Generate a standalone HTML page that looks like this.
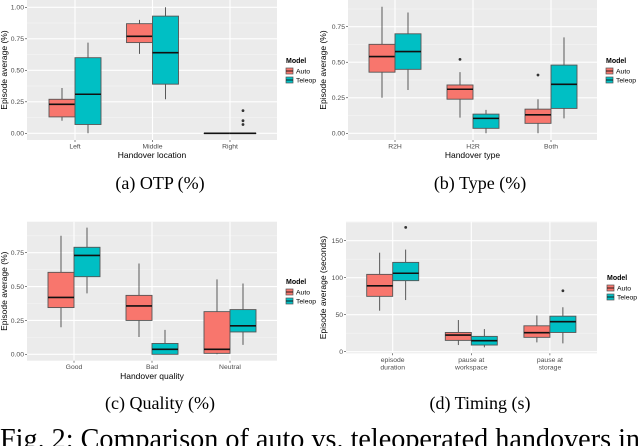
<!DOCTYPE html>
<html><head><meta charset="utf-8"><style>
html,body{margin:0;padding:0;background:#fff;width:640px;height:446px;overflow:hidden}
svg{display:block;font-family:"Liberation Sans",sans-serif}
.serif{font-family:"Liberation Serif",serif}
</style></head><body>
<svg id="fig" width="640" height="446" viewBox="0 0 640 446" xmlns="http://www.w3.org/2000/svg">
<text class="serif" x="0" y="448" font-size="29" textLength="640" lengthAdjust="spacingAndGlyphs">Fig. 2: Comparison of auto vs. teleoperated handovers in</text>
</svg>
<script>
// ---- data: panel a (OTP) ----
const aCategories = ["Left", "Middle", "Right"];
const aAuto = [[0.10,0.13,0.23,0.27,0.36],[0.63,0.72,0.77,0.87,0.90],[0,0,0,0,0]];
const aTeleop = [[0,0.07,0.31,0.60,0.72],[0.27,0.39,0.64,0.93,1.00],[0,0,0,0,0]];
const aAutoOut = [[],[],[]];
const aTeleopOut = [[],[],[0.07,0.10,0.18]];
const aTicks = [0,0.25,0.5,0.75,1.0];
const aTickLabels = ["0.00","0.25","0.50","0.75","1.00"];
// ---- data: panel b (Type) ----
const bCategories = ["R2H", "H2R", "Both"];
const bAuto = [[0.25,0.43,0.54,0.626,0.89],[0.11,0.24,0.31,0.34,0.43],[0,0.07,0.13,0.17,0.24]];
const bTeleop = [[0.305,0.45,0.575,0.70,0.85],[0,0.035,0.105,0.135,0.165],[0.105,0.175,0.345,0.48,0.675]];
const bAutoOut = [[],[0.52],[0.41]];
const bTeleopOut = [[],[],[]];
const bTicks = [0,0.25,0.5,0.75];
const bTickLabels = ["0.00","0.25","0.50","0.75"];
// ---- data: panel c (Quality) ----
const cCategories = ["Good", "Bad", "Neutral"];
const cAuto = [[0.20,0.345,0.42,0.605,0.875],[0.128,0.25,0.357,0.435,0.67],[0,0.007,0.037,0.315,0.553]];
const cTeleop = [[0.45,0.573,0.73,0.79,0.935],[0,0,0.037,0.08,0.18],[0.07,0.165,0.21,0.33,0.523]];
const cAutoOut = [[],[],[]];
const cTeleopOut = [[],[],[]];
const cTicks = [0,0.25,0.5,0.75];
const cTickLabels = ["0.00","0.25","0.50","0.75"];
// ---- data: panel d (Timing) ----
const dCategories = [["episode","duration"],["pause at","workspace"],["pause at","storage"]];
const dAuto = [[55.4,74.8,89,104.5,133.8],[9,15.3,22.5,26,42.8],[12.6,19.4,25.7,35,49]];
const dTeleop = [[69.8,96,106,120.7,138],[5.9,9,14.9,20.7,30.6],[11.3,26,40.5,48,60]];
const dAutoOut = [[],[],[]];
const dTeleopOut = [[168],[],[82.4]];
const dTicks = [0,50,100,150];
const dTickLabels = ["0","50","100","150"];

const NS = "http://www.w3.org/2000/svg";
const svg = document.getElementById("fig");
function mk(tag, attrs, parent){
  const e = document.createElementNS(NS, tag);
  for (const k in attrs) e.setAttribute(k, attrs[k]);
  (parent||svg).appendChild(e);
  return e;
}
const AUTO = "#F8766D", TELE = "#00BFC4";

function panel(p){
  const g = mk("g", {});
  
  
  const yS = v => p.py0 + (v - p.v0) * (p.py1 - p.py0) / (p.v1 - p.v0);
  const xS = i => p.cx0 + i * p.cstep;
  const bg = mk("rect", {x:p.x0, y:p.y0, width:p.x1-p.x0, height:p.y1-p.y0, fill:"#EBEBEB"}, g);
  
  
  const step = p.ticks[1]-p.ticks[0];
  for (let v = p.ticks[0]-step/2; v <= p.ticks[p.ticks.length-1]+step; v += step){
    const y = yS(v);
    if (y > p.y0 && y < p.y1) mk("line", {x1:p.x0, x2:p.x1, y1:y, y2:y, stroke:"#F5F5F5", "stroke-width":0.6}, g);
  }
  for (let v = p.ticks[p.ticks.length-1]+step; yS(v) > p.y0; v += step){
    mk("line", {x1:p.x0, x2:p.x1, y1:yS(v), y2:yS(v), stroke:"#fff", "stroke-width":1.1}, g);
  }
  p.ticks.forEach((v, i) => {
    const y = yS(v);
    mk("line", {x1:p.x0, x2:p.x1, y1:y, y2:y, stroke:"#fff", "stroke-width":1.1}, g);
    mk("line", {x1:p.x0-2, x2:p.x0, y1:y, y2:y, stroke:"#333", "stroke-width":0.6}, g);
    const t = mk("text", {x:p.x0-3, y:y+2.4, "font-size":6.8, fill:"#4D4D4D", "text-anchor":"end"}, g);
    t.textContent = p.tickLabels[i];
    
    
  });
  p.cats.forEach((c, i) => {
    const x = xS(i);
    mk("line", {x1:x, x2:x, y1:p.y0, y2:p.y1, stroke:"#fff", "stroke-width":1.1}, g);
    mk("line", {x1:x, x2:x, y1:p.y1, y2:p.y1+2, stroke:"#333", "stroke-width":0.6}, g);
    const lines = Array.isArray(c) ? c : [c];
    lines.forEach((ln, j) => {
      const t = mk("text", {x:x, y:p.y1+8.5+j*7.5, "font-size":6.8, fill:"#4D4D4D", "text-anchor":"middle"}, g);
      t.textContent = ln;
      
      
    });
  });
  const series = [[p.auto, p.autoOut, AUTO, -1, "auto"], [p.tele, p.teleOut, TELE, 1, "teleop"]];
  series.forEach(([data, outs, col, side, nm]) => {
    data.forEach((b, i) => {
      const cx = xS(i) + side * 13;
      const bx = mk("g", {}, g);
      
      
      mk("line", {x1:cx, x2:cx, y1:yS(b[0]), y2:yS(b[1]), stroke:"#333", "stroke-width":0.8}, bx);
      mk("line", {x1:cx, x2:cx, y1:yS(b[3]), y2:yS(b[4]), stroke:"#333", "stroke-width":0.8}, bx);
      mk("rect", {x:cx-13, y:yS(b[3]), width:26, height:Math.max(0.01, yS(b[1])-yS(b[3])), fill:col, stroke:"#555", "stroke-width":0.9}, bx);
      mk("line", {x1:cx-13, x2:cx+13, y1:yS(b[2]), y2:yS(b[2]), stroke:"#111", "stroke-width":1.6}, bx);
      outs[i].forEach(o => {
        const c = mk("circle", {cx:cx, cy:yS(o), r:1.4, fill:"#333"}, bx);
        
        
      });
    });
  });
  const xt = mk("text", {x:(p.x0+p.x1)/2, y:p.xTitleY, "font-size":8.5, fill:"#000", "text-anchor":"middle"}, g);
  xt.textContent = p.xTitle;
  
  
  const ym = (p.y0+p.y1)/2;
  const yt = mk("text", {x:p.yTitleX, y:ym, "font-size":8.5, fill:"#000", "text-anchor":"middle", transform:"rotate(-90 "+p.yTitleX+" "+ym+")"}, g);
  yt.textContent = p.yTitle;
  
  
  const lg = mk("g", {}, g);
  
  
  const lt = mk("text", {x:p.lx, y:p.ly, "font-size":7, "font-weight":"bold"}, lg);
  lt.textContent = "Model";
  [["Auto", AUTO], ["Teleop", TELE]].forEach(([n, col], k) => {
    const ey = p.ly + 5 + k * 9;
    const e = mk("g", {}, lg);
    
    
    mk("rect", {x:p.lx, y:ey, width:7, height:6, fill:col, stroke:"#555", "stroke-width":0.7}, e);
    mk("line", {x1:p.lx, x2:p.lx+7, y1:ey+3, y2:ey+3, stroke:"#111", "stroke-width":0.9}, e);
    const tt = mk("text", {x:p.lx+10, y:ey+5.3, "font-size":6.8}, e);
    tt.textContent = n;
  });
  const cap = mk("text", {x:p.capX, y:p.capY, "font-size":18, "text-anchor":"middle", "class":"serif"}, g);
  cap.textContent = p.caption;
  
  
}

panel({name:"panel-otp", x0:27, x1:277, y0:0, y1:140, v0:0, py0:133.3, v1:1, py1:7.3,
  cx0:75, cstep:77.5, cats:aCategories, auto:aAuto, tele:aTeleop, autoOut:aAutoOut, teleOut:aTeleopOut,
  ticks:aTicks, tickLabels:aTickLabels, xTitle:"Handover location", xTitleY:158, yTitle:"Episode average (%)", yTitleX:7,
  lx:286, ly:63, caption:"(a) OTP (%)", capX:160, capY:189});
panel({name:"panel-type", x0:348, x1:597, y0:0, y1:140, v0:0, py0:133.3, v1:0.75, py1:26.7,
  cx0:395, cstep:78, cats:bCategories, auto:bAuto, tele:bTeleop, autoOut:bAutoOut, teleOut:bTeleopOut,
  ticks:bTicks, tickLabels:bTickLabels, xTitle:"Handover type", xTitleY:158, yTitle:"Episode average (%)", yTitleX:326,
  lx:606, ly:63, caption:"(b) Type (%)", capX:480, capY:189});
panel({name:"panel-quality", x0:27, x1:277, y0:221.7, y1:360.7, v0:0, py0:354.3, v1:0.75, py1:252.7,
  cx0:74, cstep:78, cats:cCategories, auto:cAuto, tele:cTeleop, autoOut:cAutoOut, teleOut:cTeleopOut,
  ticks:cTicks, tickLabels:cTickLabels, xTitle:"Handover quality", xTitleY:379, yTitle:"Episode average (%)", yTitleX:7,
  lx:286, ly:284, caption:"(c) Quality (%)", capX:160, capY:409});
panel({name:"panel-timing", x0:346, x1:597, y0:221.7, y1:353.3, v0:0, py0:351.7, v1:150, py1:240.7,
  cx0:392.7, cstep:78.6, cats:dCategories, auto:dAuto, tele:dTeleop, autoOut:dAutoOut, teleOut:dTeleopOut,
  ticks:dTicks, tickLabels:dTickLabels, xTitle:"", xTitleY:380, yTitle:"Episode average (seconds)", yTitleX:326,
  lx:607, ly:280, caption:"(d) Timing (s)", capX:480, capY:409});
</script>
</body></html>
